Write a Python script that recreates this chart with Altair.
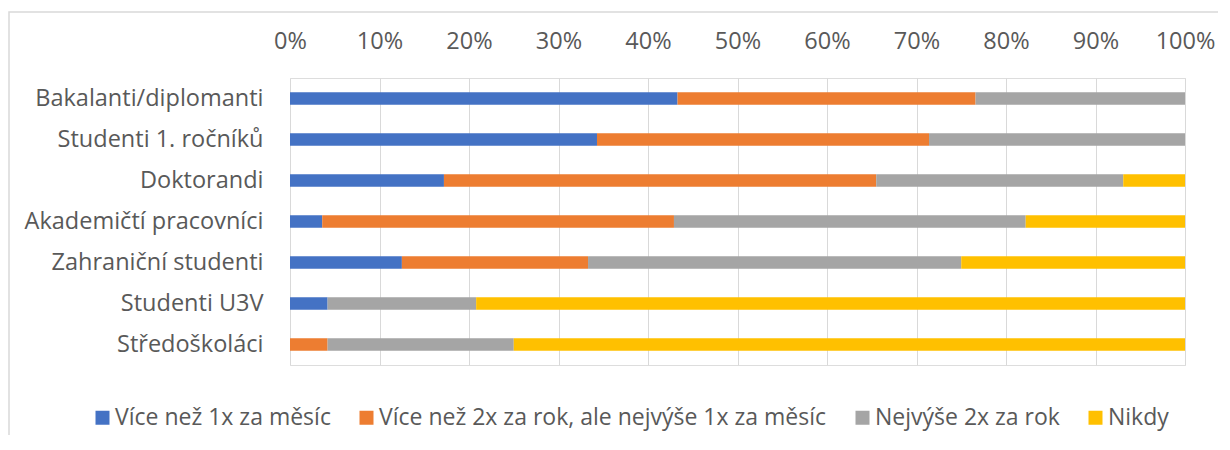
import altair as alt
import pandas as pd

groups = ["Bakalanti/diplomanti", "Studenti 1. ročníků", "Doktorandi",
          "Akademičtí pracovníci", "Zahraniční studenti", "Studenti U3V", "Středoškoláci"]
series = ["Více než 1x za měsíc", "Více než 2x za rok, ale nejvýše 1x za měsíc",
          "Nejvýše 2x za rok", "Nikdy"]
colors = ["#4472C4", "#ED7D31", "#A5A5A5", "#FFC000"]

# percentage shares
v_monthly = [43.3, 34.3, 17.2, 3.6, 12.5, 4.2, 0.0]
v_twice = [33.3, 37.1, 48.3, 39.3, 20.8, 0.0, 4.2]
v_atmost = [23.4, 28.6, 27.6, 39.3, 41.7, 16.6, 20.8]
v_never = [0.0, 0.0, 6.9, 17.8, 25.0, 79.2, 75.0]

rows = []
for i, g in enumerate(groups):
    for k, vals in enumerate([v_monthly, v_twice, v_atmost, v_never]):
        rows.append({"group": g, "series": series[k], "order": k, "value": vals[i]})
df = pd.DataFrame(rows)

FONT = "Open Sans"
TXT = "#595959"
FS = 23.5

bars = alt.Chart(df).mark_bar().encode(
    y=alt.Y("group:N", sort=groups, title=None,
            scale=alt.Scale(paddingInner=0.69, paddingOuter=0.345),
            axis=alt.Axis(domain=False, ticks=False, tickSize=0, labelPadding=27,
                          labelFontSize=FS, labelColor=TXT, labelFont=FONT, grid=False,
                          labelLimit=0)),
    x=alt.X("value:Q", stack="normalize", title=None,
            scale=alt.Scale(domain=[0, 1], nice=False),
            axis=alt.Axis(orient="top", format=".0%", values=[i / 10 for i in range(11)],
                          domain=False, ticks=False, tickSize=0, labelPadding=25,
                          labelFlush=False, labelOverlap=False,
                          labelFontSize=FS, labelColor=TXT, labelFont=FONT,
                          grid=True, gridColor="#D9D9D9", gridWidth=1)),
    color=alt.Color("series:N", sort=series,
                    scale=alt.Scale(domain=series, range=colors),
                    legend=alt.Legend(title=None, orient="none", direction="horizontal",
                                      legendX=-199, legendY=328,
                                      symbolType="square", symbolSize=196,
                                      symbolStrokeWidth=0, labelOffset=1,
                                      columnPadding=24, labelFontSize=23,
                                      labelColor=TXT, labelFont=FONT, labelLimit=0)),
    order=alt.Order("order:Q", sort="ascending"),
)

border = alt.Chart(alt.Data(values=[{}])).mark_rect(
    fill=None, stroke="#D9D9D9", strokeWidth=1.5, clip=False
).encode(
    x=alt.value(-281), x2=alt.value(1100), y=alt.value(-66), y2=alt.value(600)
)

chart = alt.layer(border, bars).properties(
    width=895, height=287,
    autosize=alt.AutoSizeParams(type="none"),
    padding={"left": 282, "top": 70, "right": 33, "bottom": 70},
).configure_view(stroke=None).configure(font=FONT)

chart.save("out.html", embed_options={"renderer": "svg", "actions": False})
